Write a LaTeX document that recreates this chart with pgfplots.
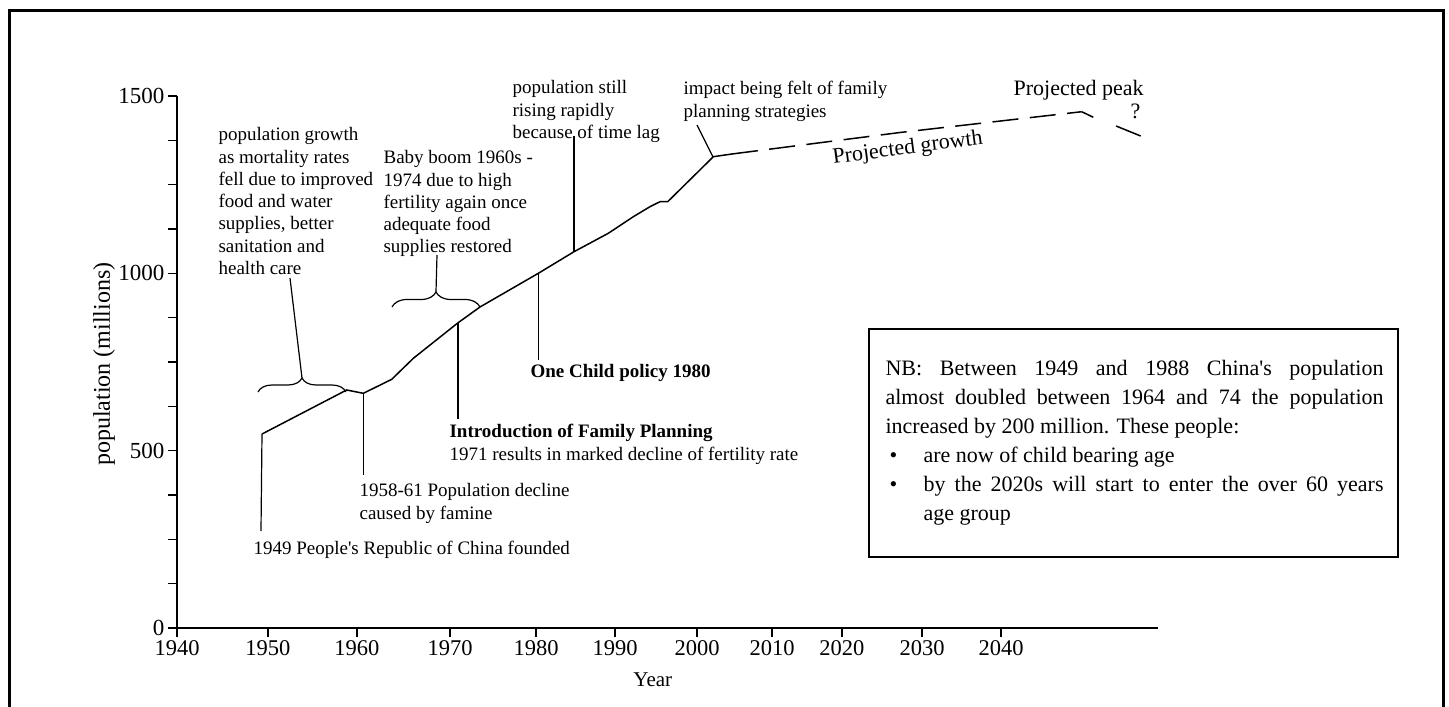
\documentclass[border=0pt]{standalone}
\usepackage{fontspec}
\setmainfont{Liberation Serif}[Ligatures=TeXOff]
\usepackage{pgfplots}
\pgfplotsset{compat=1.18}
\usetikzlibrary{decorations.pathreplacing}
\newcommand{\fs}[2]{\fontsize{#1bp}{#2bp}\selectfont}

\begin{document}
\begin{tikzpicture}
\begin{axis}[
  at={(177bp,-628bp)}, anchor=south west,
  scale only axis, width=981bp, height=532bp,
  xmin=1940, xmax=2059.05, ymin=0, ymax=1500,
  axis lines*=left,
  axis line style={line width=1.3bp},
  xtick={1940,1951.04,1961.84,1973.13,1983.57,1993.16,2003.11,2012.21,2020.70,2030.41,2040},
  xticklabels={1940,1950,1960,1970,1980,1990,2000,2010,2020,2030,2040},
  ytick={0,500,1000,1500},
  yticklabels={0,500,1000,1500},
  minor ytick={125,250,375,625,750,875,1125,1250,1375},
  tick align=outside,
  major tick length=9bp, minor tick length=9bp,
  every tick/.style={black, line width=1.2bp},
  /pgf/number format/assume math mode=true,
  xticklabel style={font=\fs{22.5}{26}},
  yticklabel style={font=\fs{23}{27}},
  xlabel={Year},
  ylabel={population (millions)},
  every axis x label/.style={at={(axis description cs:0.485,-0.0977)}, anchor=center, font=\fs{21}{25}},
  every axis y label/.style={at={(axis description cs:-0.0744,0.496)}, rotate=90, anchor=center, font=\fs{24}{28}},
  clip=false,
]
% recorded population (solid)
\addplot[black, line width=1.5bp] coordinates {
  (1950.32,547.0) (1960.59,671.1) (1962.61,661.7) (1966.06,701.2)
  (1968.68,760.4) (1974.02,859.1) (1976.77,905.1) (1983.85,1000.1)
  (1988.18,1061.0) (1992.34,1112.9) (1995.38,1159.7) (1997.40,1187.9)
  (1998.62,1202.0) (1999.55,1202.0) (2005.09,1328.9) (2007.35,1336.5)};
% projected growth (dashed)
\addplot[black, line width=1.5bp, dash pattern=on 26bp off 11.5bp] coordinates {
  (2007.35,1336.5) (2027.74,1397.1) (2049.79,1455.7)};
% projected peak and decline
\addplot[black, line width=1.5bp] coordinates {(2049.79,1455.7) (2051.20,1440.0)};
\addplot[black, line width=1.5bp] coordinates {(2053.96,1415.4) (2056.95,1387.2)};
\end{axis}

\begin{scope}[x=1bp, y=-1bp, line width=1.2bp]
% outer frame (open at the bottom)
\draw[line width=3bp] (9.5,712) -- (9.5,10.5) -- (1443.5,10.5) -- (1443.5,712);

% braces and leader lines
\draw[decorate, decoration={brace, amplitude=14bp}] (258,392) -- (346,392);
\draw (302,378) -- (290,278);
\draw[decorate, decoration={brace, amplitude=15bp}] (392,307) -- (480,307);
\draw (436,292) -- (437,255);
\draw (262,434) -- (261,531);
\draw (363.5,394) -- (363.5,475);
\draw (458,323) -- (458,419);
\draw (538.5,273) -- (538.5,360);
\draw (574,252) -- (574,136);
\draw (713,157) -- (697,125);

% annotations
\node[anchor=north west, inner sep=0, align=left, font=\fs{19}{22.3}] at (218,127)
  {population growth\\as mortality rates\\fell due to improved\\food and water\\supplies, better\\sanitation and\\health care};
\node[anchor=north west, inner sep=0, align=left, font=\fs{19}{22.3}] at (383,150)
  {Baby boom 1960s -\\1974 due to high\\fertility again once\\adequate food\\supplies restored};
\node[anchor=north west, inner sep=0, align=left, font=\fs{19}{22.3}] at (512,80)
  {population still\\rising rapidly\\because of time lag};
\node[anchor=north west, inner sep=0, align=left, font=\fs{19}{22.3}] at (683,81)
  {impact being felt of family\\planning strategies};
\node[anchor=base west, inner sep=0, font=\fs{22}{26}] at (1013,95) {Projected peak};
\node[anchor=base west, inner sep=0, font=\fs{22}{26}] at (1130,118) {?};
\node[anchor=base west, inner sep=0, rotate=7.5, font=\fs{22}{26}] at (833,164) {Projected growth};
\node[anchor=base west, inner sep=0, font=\fs{19}{22.3}] at (253,554)
  {1949 People's Republic of China founded};
\node[anchor=north west, inner sep=0, align=left, font=\fs{19}{22.3}] at (359,483)
  {1958-61 Population decline\\caused by famine};
\node[anchor=north west, inner sep=0, align=left, font=\fs{19}{22.3}] at (449,424)
  {\textbf{Introduction of Family Planning}\\1971 results in marked decline of fertility rate};
\node[anchor=base west, inner sep=0, font=\fs{19}{22.3}\bfseries] at (530,377) {One Child policy 1980};

% NB box
\draw (869,329) rectangle (1398,557);
\node[anchor=north west, inner sep=0, text width=498bp, align=justify, font=\fs{22}{29}] at (885,360)
  {NB: Between 1949 and 1988 China's population\linebreak
   almost doubled between 1964 and 74 the population\linebreak
   increased by 200 million. These people:\par
   \noindent\hspace*{4bp}\makebox[34bp][l]{\textbullet}are now of child bearing age\par
   \noindent\hangindent=38bp\hangafter=1\hspace*{4bp}\makebox[34bp][l]{\textbullet}by the 2020s will start to enter the over 60 years\linebreak
   age group\par};
\end{scope}

\pgfresetboundingbox
\path[use as bounding box] (0bp,0bp) rectangle (1449bp,-707bp);
\end{tikzpicture}
\end{document}
